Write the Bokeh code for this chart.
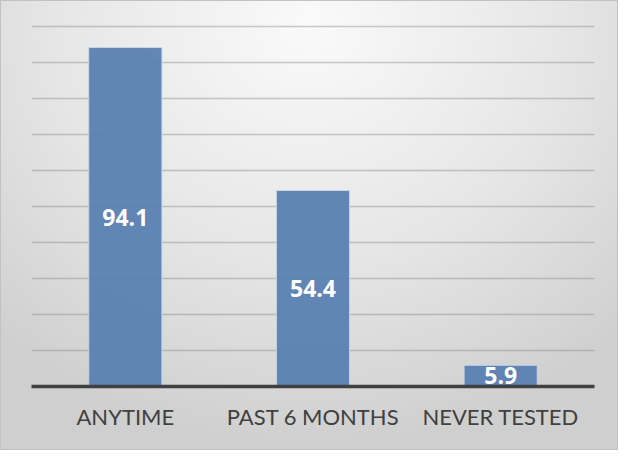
from bokeh.plotting import figure
from bokeh.models import ColumnDataSource, LabelSet, Range1d
from bokeh.core.properties import value
from bokeh.embed import file_html
from bokeh.resources import INLINE

categories = ["ANYTIME", "PAST 6 MONTHS", "NEVER TESTED"]
values = [94.1, 54.4, 5.9]
value_labels = ["94.1", "54.4", "5.9"]

src = ColumnDataSource(dict(
    cat=categories,
    val=values,
    mid=[v / 2 for v in values],
    lab=value_labels,
))

p = figure(x_range=categories, y_range=Range1d(0, 103), width=618, height=450,
           output_backend="svg", toolbar_location=None,
           min_border_left=30, min_border_right=25, min_border_top=14, min_border_bottom=65)

p.border_fill_color = None
p.background_fill_color = None
p.outline_line_color = None
p.styles = {
    "background": "radial-gradient(ellipse 75% 95% at 50% 5%, #fafafa 0%, #e6e6e6 55%, #cfcfcf 100%)",
    "border": "1px solid #c2c2c2",
    "box-sizing": "border-box",
}

p.vbar(x="cat", top="val", width=0.39, source=src,
       fill_color="#5a80b2", fill_alpha=0.95,
       line_color="#c9d6e6", line_width=1)

labels = LabelSet(x="cat", y="mid", text="lab", source=src,
                  text_align="center", text_baseline="middle",
                  text_color="white", text_font=value("Open Sans"),
                  text_font_style="bold", text_font_size="23px")
p.add_layout(labels)

p.yaxis.visible = False
p.ygrid.ticker = list(range(10, 101, 10))
p.ygrid.grid_line_color = "#8c8c8c"
p.ygrid.grid_line_alpha = 0.45
p.ygrid.grid_line_width = 1.5
p.xgrid.grid_line_color = None

p.xaxis.axis_line_color = "#404040"
p.xaxis.axis_line_width = 3.5
p.xaxis.major_tick_line_color = None
p.xaxis.minor_tick_line_color = None
p.xaxis.major_label_text_font = "Lato"
p.xaxis.major_label_text_font_size = "22px"
p.xaxis.major_label_text_color = "#404040"
p.xaxis.major_label_standoff = 10

open("out.html", "w").write(file_html(p, INLINE))
